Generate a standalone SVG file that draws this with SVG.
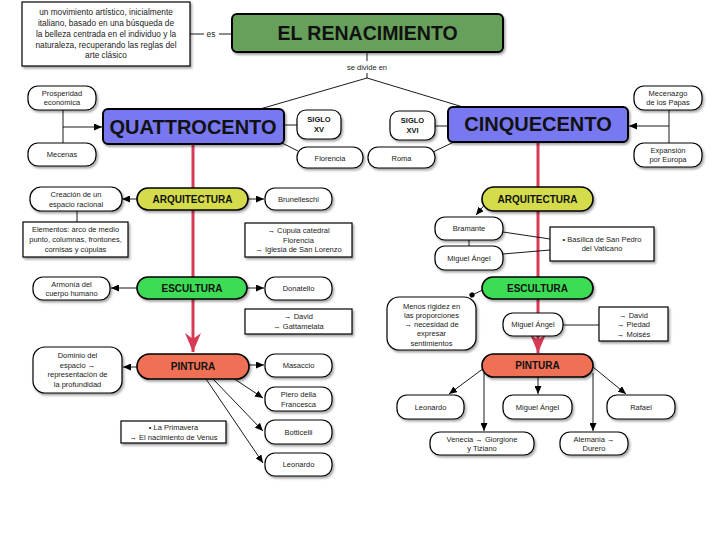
<svg xmlns="http://www.w3.org/2000/svg" width="720" height="540" viewBox="0 0 720 540">
<defs>
<filter id="sh" x="-20%" y="-20%" width="140%" height="150%">
<feDropShadow dx="1.5" dy="2" stdDeviation="1.3" flood-color="#000" flood-opacity="0.35"/>
</filter>
<marker id="ar" markerUnits="userSpaceOnUse" markerWidth="9" markerHeight="7" refX="8" refY="3.5" orient="auto">
<path d="M0,0 L8,3.5 L0,7 z" fill="#000"/>
</marker>
<marker id="dot" markerUnits="userSpaceOnUse" markerWidth="6" markerHeight="6" refX="3" refY="3" orient="auto">
<circle cx="3" cy="3" r="2.6" fill="#000"/>
</marker>
<marker id="rar" markerUnits="userSpaceOnUse" markerWidth="20" markerHeight="16" refX="19" refY="8" orient="auto">
<path d="M0,0 L19,8 L0,16 L6,8 z" fill="#d63a55"/>
</marker>
<style>
.n{fill:#fff;stroke:#000;stroke-width:1.2;filter:url(#sh)}
.b{stroke:#000;stroke-width:2;filter:url(#sh)}
.t{font-family:"Liberation Sans",Arial,Helvetica,sans-serif;font-size:7.5px;fill:#222;text-anchor:middle}
.tl{font-size:8.3px}
.h{font-family:"Liberation Sans",Arial,Helvetica,sans-serif;font-weight:bold;fill:#111;text-anchor:middle}
.c{stroke:#000;stroke-width:0.9;fill:none}
.a{marker-end:url(#ar)}
.r{stroke:#d63a55;stroke-width:3;fill:none}
</style>
</defs>
<rect width="720" height="540" fill="#fff"/>

<g id="connectors">
<line class="r" x1="193" y1="144" x2="193" y2="352" marker-end="url(#rar)"/>
<line class="r" x1="538" y1="142" x2="538" y2="353" marker-end="url(#rar)"/>
<line class="c" x1="190" y1="34" x2="204" y2="34"/>
<line class="c" x1="219" y1="34" x2="232" y2="34"/>
<polyline class="c" points="367,52 367,61"/>
<polyline class="c" points="367,73 367,78"/>
<line class="c" x1="367" y1="78" x2="260" y2="109"/>
<line class="c" x1="367" y1="78" x2="463" y2="107"/>
<line class="c" x1="284" y1="125" x2="297" y2="125"/>
<line class="c" x1="282" y1="143" x2="298" y2="151"/>
<line class="c" x1="435" y1="126" x2="448" y2="126"/>
<line class="c" x1="456" y1="141" x2="433" y2="152"/>
<line class="c" x1="63" y1="110" x2="63" y2="143"/>
<line class="c a" x1="63" y1="127" x2="102" y2="127"/>
<line class="c" x1="669" y1="110" x2="669" y2="143"/>
<line class="c a" x1="669" y1="126" x2="629" y2="126"/>
<line class="c a" x1="137" y1="199" x2="122" y2="199"/>
<line class="c" x1="77" y1="211" x2="77" y2="222"/>
<line class="c a" x1="248" y1="199" x2="264" y2="199"/>
<line class="c a" x1="137" y1="288" x2="111" y2="288"/>
<line class="c a" x1="247" y1="288" x2="264" y2="288"/>
<line class="c a" x1="137" y1="367" x2="123" y2="367"/>
<line class="c a" x1="249" y1="365" x2="264" y2="365"/>
<line class="c a" x1="233" y1="378" x2="263" y2="398"/>
<line class="c a" x1="213" y1="379" x2="263" y2="431"/>
<line class="c a" x1="206" y1="379" x2="263" y2="463"/>
<line class="c a" x1="486" y1="203" x2="476" y2="215"/>
<line class="c" x1="469" y1="240" x2="469" y2="246"/>
<line class="c" x1="503" y1="232" x2="550" y2="239"/>
<line class="c" x1="503" y1="254" x2="550" y2="250"/>
<line class="c" x1="485" y1="289" x2="472" y2="295" marker-end="url(#dot)"/>
<line class="c" x1="563" y1="325" x2="599" y2="325"/>
<line class="c a" x1="484" y1="368" x2="449" y2="394"/>
<line class="c a" x1="484" y1="373" x2="484" y2="431"/>
<line class="c a" x1="538" y1="377" x2="538" y2="394"/>
<line class="c a" x1="593" y1="373" x2="593" y2="431"/>
<line class="c a" x1="593" y1="367" x2="626" y2="394"/>
</g>

<g id="definicion">
<rect class="n" x="22" y="2" width="168" height="64"/>
<text class="t tl" x="106" y="15">un movimiento artístico, inicialmente</text>
<text class="t tl" x="106" y="26">italiano, basado en una búsqueda de</text>
<text class="t tl" x="106" y="37">la belleza centrada en el individuo y la</text>
<text class="t tl" x="106" y="47.5">naturaleza, recuperando las reglas del</text>
<text class="t tl" x="106" y="58">arte clásico</text>
</g>
<g id="lbl-es"><text class="t tl" x="211" y="37">es</text></g>
<g id="renacimiento">
<rect class="b" x="232" y="14" width="271" height="38" rx="5" fill="#66a05a"/>
<text class="h" x="367.5" y="40" font-size="19.5">EL RENACIMIENTO</text>
</g>
<g id="lbl-divide"><text class="t" x="367" y="70">se divide en</text></g>

<g id="quattrocento">
<rect class="b" x="103" y="109" width="181" height="35" rx="5" fill="#7878f0"/>
<text class="h" x="193" y="134" font-size="20">QUATTROCENTO</text>
</g>
<g id="cinquecento">
<rect class="b" x="448" y="107" width="180" height="35" rx="5" fill="#7878f0"/>
<text class="h" x="538" y="131" font-size="20">CINQUECENTO</text>
</g>
<g id="siglo-xv">
<rect class="n" x="297" y="110" width="44" height="29" rx="9"/>
<text class="h" x="319" y="122" font-size="7.5">SIGLO</text>
<text class="h" x="319" y="132" font-size="7.5">XV</text>
</g>
<g id="siglo-xvi">
<rect class="n" x="390" y="111" width="45" height="29" rx="9"/>
<text class="h" x="412.5" y="123" font-size="7.5">SIGLO</text>
<text class="h" x="412.5" y="133" font-size="7.5">XVI</text>
</g>
<g id="florencia">
<rect class="n" x="297" y="147" width="66" height="21" rx="10"/>
<text class="t" x="330" y="160.5">Florencia</text>
</g>
<g id="roma">
<rect class="n" x="368" y="147" width="67" height="21" rx="10"/>
<text class="t" x="401.5" y="160.5">Roma</text>
</g>
<g id="prosperidad">
<rect class="n" x="28" y="86" width="68" height="24" rx="10"/>
<text class="t" x="62" y="96">Prosperidad</text>
<text class="t" x="62" y="105">económica</text>
</g>
<g id="mecenas">
<rect class="n" x="28" y="143" width="68" height="23" rx="10"/>
<text class="t" x="62" y="157">Mecenas</text>
</g>
<g id="mecenazgo">
<rect class="n" x="634" y="86" width="68" height="24" rx="10"/>
<text class="t" x="668" y="96">Mecenazgo</text>
<text class="t" x="668" y="105">de los Papas</text>
</g>
<g id="expansion">
<rect class="n" x="634" y="143" width="68" height="24" rx="10"/>
<text class="t" x="668" y="153">Expansión</text>
<text class="t" x="668" y="162">por Europa</text>
</g>

<g id="arq-q">
<rect class="b" x="137" y="188" width="111" height="22" rx="11" fill="#d4dc4c" style="stroke-width:1.6"/>
<text class="h" x="192.5" y="202.5" font-size="10">ARQUITECTURA</text>
</g>
<g id="creacion">
<rect class="n" x="30" y="187" width="92" height="24" rx="11"/>
<text class="t" x="76" y="197">Creación de un</text>
<text class="t" x="76" y="206.5">espacio racional</text>
</g>
<g id="elementos">
<rect class="n" x="23" y="222" width="105" height="35"/>
<text class="t" x="75.5" y="232">Elementos: arco de medio</text>
<text class="t" x="75.5" y="242">punto, columnas, frontones,</text>
<text class="t" x="75.5" y="251.5">cornisas y cúpulas</text>
</g>
<g id="brunelleschi">
<rect class="n" x="265" y="188" width="67" height="22" rx="10"/>
<text class="t" x="298.5" y="201.5">Brunelleschi</text>
</g>
<g id="obras-brunelleschi">
<rect class="n" x="245" y="223" width="107" height="34"/>
<text class="t" x="298.5" y="233">→ Cúpula catedral</text>
<text class="t" x="298.5" y="242.5">Florencia</text>
<text class="t" x="298.5" y="252">→ Iglesia de San Lorenzo</text>
</g>
<g id="esc-q">
<rect class="b" x="137" y="277" width="110" height="22" rx="11" fill="#3ddc55" style="stroke-width:1.6"/>
<text class="h" x="192" y="291.5" font-size="10">ESCULTURA</text>
</g>
<g id="armonia">
<rect class="n" x="33" y="277" width="77" height="23" rx="10"/>
<text class="t" x="71.5" y="286.5">Armonía del</text>
<text class="t" x="71.5" y="296">cuerpo humano</text>
</g>
<g id="donatello">
<rect class="n" x="265" y="277" width="67" height="23" rx="10"/>
<text class="t" x="298.5" y="291">Donatello</text>
</g>
<g id="obras-donatello">
<rect class="n" x="245" y="309" width="107" height="25"/>
<text class="t" x="298.5" y="319">→ David</text>
<text class="t" x="298.5" y="328.5">→ Gattamelata</text>
</g>
<g id="pint-q">
<rect class="b" x="137" y="354" width="112" height="25" rx="12.5" fill="#ef6f55" style="stroke-width:1.6"/>
<text class="h" x="193" y="369.5" font-size="10">PINTURA</text>
</g>
<g id="dominio">
<rect class="n" x="33" y="347" width="89" height="46" rx="12"/>
<text class="t" x="77.5" y="358">Dominio del</text>
<text class="t" x="77.5" y="367.5">espacio →</text>
<text class="t" x="77.5" y="377">representación de</text>
<text class="t" x="77.5" y="386.5">la profundidad</text>
</g>
<g id="masaccio">
<rect class="n" x="265" y="354" width="67" height="23" rx="10"/>
<text class="t" x="298.5" y="368">Masaccio</text>
</g>
<g id="piero">
<rect class="n" x="265" y="387" width="67" height="24" rx="10"/>
<text class="t" x="298.5" y="397">Piero della</text>
<text class="t" x="298.5" y="406.5">Francesca</text>
</g>
<g id="botticelli">
<rect class="n" x="265" y="420" width="67" height="24" rx="10"/>
<text class="t" x="298.5" y="434.5">Botticelli</text>
</g>
<g id="leonardo-q">
<rect class="n" x="265" y="453" width="67" height="23" rx="10"/>
<text class="t" x="298.5" y="467">Leonardo</text>
</g>
<g id="obras-botticelli">
<rect class="n" x="121" y="421" width="105" height="22"/>
<text class="t" x="173.5" y="430">• La Primavera</text>
<text class="t" x="173.5" y="439.5">→ El nacimiento de Venus</text>
</g>

<g id="arq-c">
<rect class="b" x="482" y="187" width="111" height="24" rx="12" fill="#d4dc4c" style="stroke-width:1.6"/>
<text class="h" x="537.5" y="202.5" font-size="10">ARQUITECTURA</text>
</g>
<g id="bramante">
<rect class="n" x="435" y="217" width="68" height="23" rx="10"/>
<text class="t" x="469" y="231">Bramante</text>
</g>
<g id="miguel-arq">
<rect class="n" x="435" y="246" width="68" height="24" rx="10"/>
<text class="t" x="469" y="260.5">Miguel Ángel</text>
</g>
<g id="basilica">
<rect class="n" x="550" y="227" width="104" height="34"/>
<text class="t" x="602" y="241.5">• Basílica de San Pedro</text>
<text class="t" x="602" y="251">del Vaticano</text>
</g>
<g id="esc-c">
<rect class="b" x="482" y="277" width="111" height="22" rx="11" fill="#3ddc55" style="stroke-width:1.6"/>
<text class="h" x="537.5" y="291.5" font-size="10">ESCULTURA</text>
</g>
<g id="menos-rigidez">
<rect class="n" x="387" y="297" width="89" height="53" rx="12"/>
<text class="t" x="431.5" y="308.5">Menos rigidez en</text>
<text class="t" x="431.5" y="318">las proporciones</text>
<text class="t" x="431.5" y="327">→ necesidad de</text>
<text class="t" x="431.5" y="336">expresar</text>
<text class="t" x="431.5" y="345.5">sentimientos</text>
</g>
<g id="miguel-esc">
<rect class="n" x="503" y="313" width="60" height="23" rx="10"/>
<text class="t" x="533" y="327">Miguel Ángel</text>
</g>
<g id="obras-miguel">
<rect class="n" x="599" y="307" width="69" height="34"/>
<text class="t" x="633.5" y="317.5">→ David</text>
<text class="t" x="633.5" y="327">→ Piedad</text>
<text class="t" x="633.5" y="336.5">→ Moisés</text>
</g>
<g id="pint-c">
<rect class="b" x="482" y="354" width="111" height="23" rx="11.5" fill="#ef6f55" style="stroke-width:1.6"/>
<text class="h" x="537.5" y="368.5" font-size="10">PINTURA</text>
</g>
<g id="leonardo-c">
<rect class="n" x="397" y="395" width="67" height="24" rx="10"/>
<text class="t" x="430.5" y="409.5">Leonardo</text>
</g>
<g id="miguel-pint">
<rect class="n" x="503" y="395" width="69" height="24" rx="10"/>
<text class="t" x="537.5" y="409.5">Miguel Ángel</text>
</g>
<g id="rafael">
<rect class="n" x="607" y="395" width="68" height="24" rx="10"/>
<text class="t" x="641" y="409.5">Rafael</text>
</g>
<g id="venecia">
<rect class="n" x="430" y="432" width="104" height="23" rx="10"/>
<text class="t" x="482" y="441.5">Venecia → Giorgione</text>
<text class="t" x="482" y="451">y Tiziano</text>
</g>
<g id="alemania">
<rect class="n" x="560" y="432" width="68" height="23" rx="10"/>
<text class="t" x="594" y="441.5">Alemania →</text>
<text class="t" x="594" y="451">Durero</text>
</g>
</svg>
